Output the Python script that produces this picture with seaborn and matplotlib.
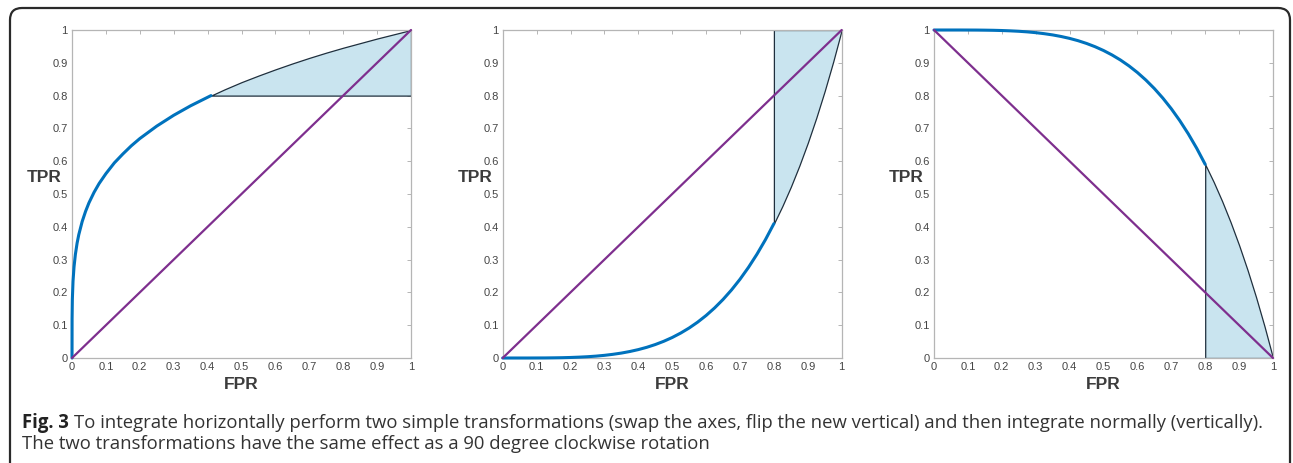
"""Three ROC panels showing horizontal integration via axis swap and flip."""

import matplotlib

matplotlib.use("Agg")
import matplotlib.pyplot as plt
import seaborn as sns
from matplotlib.patches import FancyBboxPatch

# values
FPR_1 = [0, 0.0002, 0.001, 0.003, 0.006, 0.01, 0.015, 0.02, 0.03, 0.04, 0.05, 0.065,
         0.08, 0.1, 0.125, 0.15, 0.175, 0.2, 0.25, 0.3, 0.35, 0.41, 0.45, 0.5, 0.55,
         0.6, 0.65, 0.7, 0.75, 0.8, 0.85, 0.9, 0.95, 1.0]
TPR_1 = [0, 0.119, 0.178, 0.234, 0.278, 0.316, 0.35, 0.376, 0.416, 0.447, 0.473, 0.505,
         0.532, 0.562, 0.595, 0.622, 0.647, 0.669, 0.707, 0.74, 0.769, 0.80, 0.819, 0.841,
         0.861, 0.880, 0.898, 0.915, 0.931, 0.946, 0.96, 0.974, 0.987, 1.0]

FPR_2 = [0, 0.025, 0.05, 0.075, 0.1, 0.125, 0.15, 0.175, 0.2, 0.225, 0.25, 0.275,
         0.3, 0.325, 0.35, 0.375, 0.4, 0.425, 0.45, 0.475, 0.5, 0.525, 0.55, 0.575,
         0.6, 0.625, 0.65, 0.675, 0.7, 0.725, 0.75, 0.775, 0.8, 0.825, 0.85, 0.875,
         0.9, 0.925, 0.95, 0.975, 1.0]
TPR_2 = [0, 0, 0, 0, 0.0001, 0.0002, 0.0005, 0.0009, 0.0016, 0.0026, 0.0039, 0.0057,
         0.0081, 0.0112, 0.015, 0.0198, 0.0256, 0.0326, 0.041, 0.0509, 0.0625, 0.076,
         0.0915, 0.1093, 0.1296, 0.1526, 0.1785, 0.2076, 0.2401, 0.2763, 0.3164, 0.3607,
         0.4096, 0.4632, 0.522, 0.5862, 0.6561, 0.7321, 0.8145, 0.9037, 1.0]

FPR_3 = [0, 0.025, 0.05, 0.075, 0.1, 0.125, 0.15, 0.175, 0.2, 0.225, 0.25, 0.275,
         0.3, 0.325, 0.35, 0.375, 0.4, 0.425, 0.45, 0.475, 0.5, 0.525, 0.55, 0.575,
         0.6, 0.625, 0.65, 0.675, 0.7, 0.725, 0.75, 0.775, 0.8, 0.825, 0.85, 0.875,
         0.9, 0.925, 0.95, 0.975, 1.0]
TPR_3 = [1.0, 1.0, 1.0, 1.0, 0.9999, 0.9998, 0.9995, 0.9991, 0.9984, 0.9974, 0.9961,
         0.9943, 0.9919, 0.9888, 0.985, 0.9802, 0.9744, 0.9674, 0.959, 0.9491, 0.9375,
         0.924, 0.9085, 0.8907, 0.8704, 0.8474, 0.8215, 0.7924, 0.7599, 0.7237, 0.6836,
         0.6393, 0.5904, 0.5368, 0.478, 0.4138, 0.3439, 0.2679, 0.1855, 0.0963, 0.0]

DIAG_UP = ([0, 1], [0, 1])
DIAG_DOWN = ([0, 1], [1, 0])

TICKS = [0, 0.1, 0.2, 0.3, 0.4, 0.5, 0.6, 0.7, 0.8, 0.9, 1]
TICK_LABELS = ["0", "0.1", "0.2", "0.3", "0.4", "0.5", "0.6", "0.7", "0.8", "0.9", "1"]

CAPTION_1 = ("To integrate horizontally perform two simple transformations "
             "(swap the axes, flip the new vertical) and then integrate normally (vertically).")
CAPTION_2 = "The two transformations have the same effect as a 90 degree clockwise rotation"

BLUE = "#0072bd"
PURPLE = "#7e2f8e"
SHADE = "#c9e4ef"
EDGE = "#1f2f3d"
SPINE = "#b5b5b5"
TEXT = "#3c3c3c"

sns.set_style("white")
plt.rcParams["font.family"] = ["Liberation Sans", "DejaVu Sans"]

fig = plt.figure(figsize=(12.93, 4.63), dpi=100)

lefts = [72 / 1293, 502.7 / 1293, 934 / 1293]
width = 339 / 1293
bottom = (463 - 358) / 463
height = 328 / 463


def style_axis(ax):
    ax.set_xlim(0, 1)
    ax.set_ylim(0, 1)
    ax.set_xticks(TICKS)
    ax.set_yticks(TICKS)
    ax.set_xticklabels(TICK_LABELS)
    ax.set_yticklabels(TICK_LABELS)
    ax.tick_params(direction="in", length=3, width=0.7, color=SPINE, labelsize=8,
                   labelcolor="#454545", pad=3, top=True, right=True)
    for spine in ax.spines.values():
        spine.set_color(SPINE)
        spine.set_linewidth(0.9)
    ax.set_xlabel("")
    ax.set_ylabel("")
    ax.text(-0.03, 0.55, "TPR", transform=ax.transAxes, ha="right", va="center",
            fontsize=12.5, fontweight="bold", color=TEXT)
    ax.text(0.5, -0.082, "FPR", transform=ax.transAxes, ha="center", va="center",
            fontsize=12.5, fontweight="bold", color=TEXT)


def draw_panel(ax, fpr, tpr, cut, lower, upper, diag):
    keep = [x <= cut for x in fpr]
    sns.lineplot(x=[x for x, k in zip(fpr, keep) if k], y=[y for y, k in zip(tpr, keep) if k],
                 color=BLUE, linewidth=2.2, ax=ax, zorder=3, clip_on=False)
    ax.fill_between(fpr, lower, upper, where=[x >= cut for x in fpr],
                    facecolor=SHADE, edgecolor=EDGE, linewidth=0.9, zorder=2)
    sns.lineplot(x=diag[0], y=diag[1], color=PURPLE, linewidth=1.6, ax=ax, zorder=4,
                 clip_on=False)
    style_axis(ax)


axes = [fig.add_axes([left, bottom, width, height]) for left in lefts]

# panel 1: shaded between curve and TPR = 0.8
draw_panel(axes[0], FPR_1, TPR_1, 0.41, 0.8, TPR_1, DIAG_UP)
# panel 2: shaded between curve and TPR = 1 for FPR >= 0.8
draw_panel(axes[1], FPR_2, TPR_2, 0.8, TPR_2, 1, DIAG_UP)
# panel 3: rotated curve, shaded under it for FPR >= 0.8
draw_panel(axes[2], FPR_3, TPR_3, 0.8, 0, TPR_3, DIAG_DOWN)

# rounded frame around the figure
frame = FancyBboxPatch((0.10, -0.3), 12.80, 4.85, boxstyle="round,pad=0,rounding_size=0.12",
                       transform=fig.dpi_scale_trans, facecolor="none", edgecolor="#2a2a2a",
                       linewidth=1.6)
fig.patches.append(frame)

cap_font = ["Open Sans", "DejaVu Sans"]
cap_size = 13.35
cap_left = 22 / 1293
t = fig.text(cap_left, 1 - 428 / 463, "Fig. 3", fontsize=cap_size, fontweight="bold",
             color="#222222", va="baseline", ha="left", family=cap_font)
fig.canvas.draw()
bb = t.get_window_extent()
fig.text((bb.x1 + 5) / 1293, 1 - 428 / 463, CAPTION_1, fontsize=cap_size, color="#333333",
         va="baseline", ha="left", family=cap_font)
fig.text(cap_left, 1 - 449 / 463, CAPTION_2, fontsize=cap_size, color="#333333",
         va="baseline", ha="left", family=cap_font)

fig.savefig("out.png", dpi=100)
